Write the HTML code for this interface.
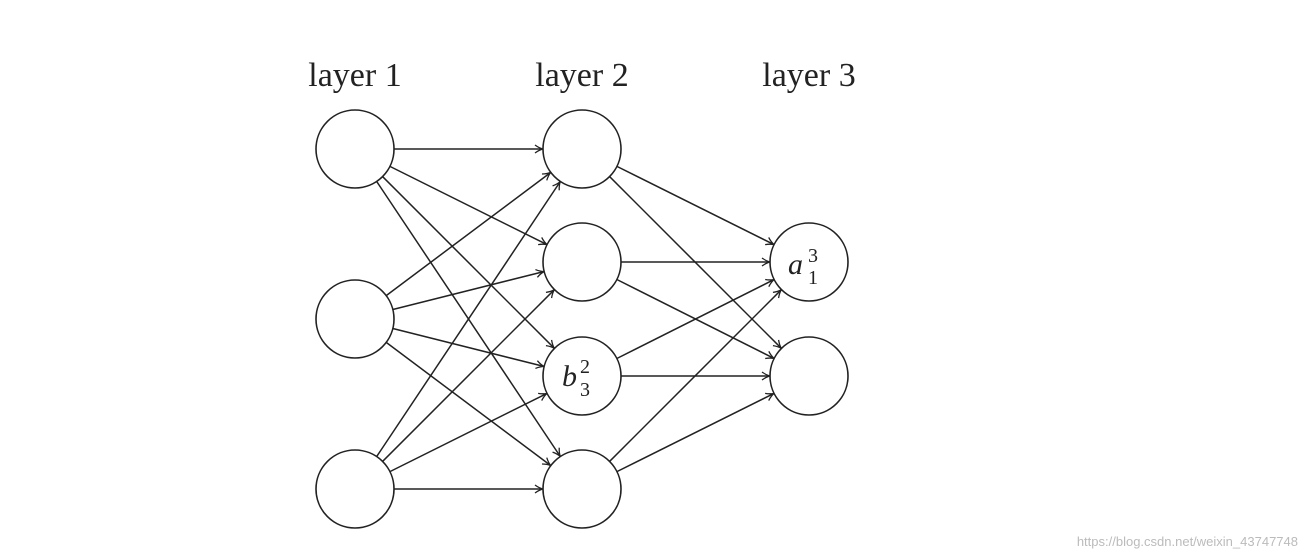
<!DOCTYPE html>
<html><head><meta charset="utf-8"><style>
html,body{margin:0;padding:0;background:#fff;}
svg{display:block}
</style></head><body>
<svg id="s" width="1308" height="558" xmlns="http://www.w3.org/2000/svg">
<defs><marker id="a" markerWidth="10" markerHeight="10" refX="8" refY="5" orient="auto" markerUnits="userSpaceOnUse">
<path d="M1,1 Q5,4 9,5 Q5,6 1,9" fill="none" stroke="#222" stroke-width="1.3"/></marker></defs>
<g font-family="Liberation Serif, serif" font-size="34" fill="#222" text-anchor="middle">
<text x="355" y="86">layer 1</text>
<text x="582" y="86">layer 2</text>
<text x="809" y="86">layer 3</text>
</g>
<g id="g"></g>
<g font-family="Liberation Serif, serif" font-style="italic" fill="#222">
<text x="562" y="386" font-size="30">b</text>
<text x="580" y="373" font-size="20" font-style="normal">2</text>
<text x="580" y="396" font-size="20" font-style="normal">3</text>
<text x="788" y="274" font-size="30">a</text>
<text x="808" y="262" font-size="20" font-style="normal">3</text>
<text x="808" y="284" font-size="20" font-style="normal">1</text>
</g>
<text x="1298" y="546" font-family="Liberation Sans, sans-serif" font-size="13" fill="#bbb" text-anchor="end">https://blog.csdn.net/weixin_43747748</text>
</svg>
<script>
var L=[[[355,149],[355,319],[355,489]],[[582,149],[582,262],[582,376],[582,489]],[[809,262],[809,376]]];
var r=39,g=document.getElementById('g'),h='';
for(var k=0;k<2;k++)for(var i=0;i<L[k].length;i++)for(var j=0;j<L[k+1].length;j++){
var p=L[k][i],q=L[k+1][j],dx=q[0]-p[0],dy=q[1]-p[1],d=Math.sqrt(dx*dx+dy*dy),ux=dx/d,uy=dy/d;
h+='<line x1="'+(p[0]+ux*r)+'" y1="'+(p[1]+uy*r)+'" x2="'+(q[0]-ux*(r+1))+'" y2="'+(q[1]-uy*(r+1))+'" stroke="#222" stroke-width="1.5" marker-end="url(#a)"/>';}
for(var k=0;k<3;k++)for(var i=0;i<L[k].length;i++)h+='<circle cx="'+L[k][i][0]+'" cy="'+L[k][i][1]+'" r="'+r+'" fill="none" stroke="#222" stroke-width="1.6"/>';
g.innerHTML=h;
</script>
</body></html>
